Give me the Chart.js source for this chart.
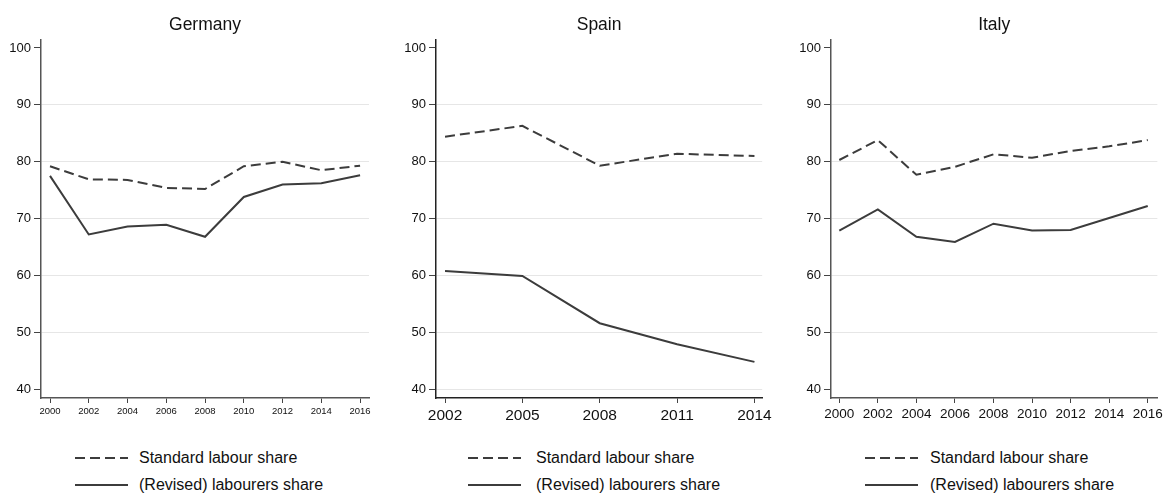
<!DOCTYPE html>
<html>
<head>
<meta charset="utf-8">
<script src="https://cdn.jsdelivr.net/npm/chart.js@4/dist/chart.umd.min.js"></script>
<style>
  html, body { margin: 0; padding: 0; background: #fff; }
  body { width: 1166px; height: 493px; position: relative; overflow: hidden; }
  canvas { position: absolute; top: 0; }
  .legend { position: absolute; font-family: 'Liberation Sans', Arial, sans-serif; font-size: 16px; color: #111; }
  .legend .row { position: absolute; left: 0; height: 20px; white-space: nowrap; }
  .legend svg { position: absolute; left: 0; top: 0; }
  .legend span { position: absolute; top: 0; line-height: 20px; }
</style>
</head>
<body>
<canvas id="germany" width="380" height="430" style="left:0px"></canvas>
<canvas id="spain" width="380" height="430" style="left:395px"></canvas>
<canvas id="italy" width="376" height="430" style="left:790px"></canvas>

<div class="legend" style="left:75px;top:448px" id="leg-germany"></div>
<div class="legend" style="left:468px;top:448px" id="leg-spain"></div>
<div class="legend" style="left:865px;top:448px" id="leg-italy"></div>

<script>
// Labour share series by country (percent)
const germanyYears    = [2000, 2002, 2004, 2006, 2008, 2010, 2012, 2014, 2016];
const germanyStandard = [79.2, 76.9, 76.8, 75.4, 75.2, 79.2, 80.0, 78.5, 79.3];
const germanyRevised  = [77.5, 67.2, 68.6, 68.9, 66.8, 73.8, 76.0, 76.2, 77.6];

const spainYears    = [2002, 2005, 2008, 2011, 2014];
const spainStandard = [84.4, 86.3, 79.3, 81.4, 81.0];
const spainRevised  = [60.8, 59.9, 51.6, 47.9, 44.8];

const italyYears    = [2000, 2002, 2004, 2006, 2008, 2010, 2012, 2014, 2016];
const italyStandard = [80.3, 83.8, 77.7, 79.1, 81.3, 80.7, 81.9, 82.7, 83.8];
const italyRevised  = [67.9, 71.6, 66.8, 65.9, 69.1, 67.9, 68.0, 70.1, 72.2];

const yTicks = [40, 50, 60, 70, 80, 90, 100];
const seriesNames = ['Standard labour share', '(Revised) labourers share'];

const LINE = '#3c3c3c';
const FONT = "'Liberation Sans', Arial, sans-serif";

function pairs(xs, ys) { return xs.map((x, i) => ({ x: x, y: ys[i] })); }

function makePanel(id, title, years, standard, revised, opt) {
  new Chart(document.getElementById(id), {
    type: 'line',
    data: {
      datasets: [
        { label: seriesNames[0], data: pairs(years, standard), borderColor: LINE, borderWidth: 2,
          borderDash: [10, 5], pointRadius: 0, fill: false, tension: 0 },
        { label: seriesNames[1], data: pairs(years, revised), borderColor: LINE, borderWidth: 2,
          pointRadius: 0, fill: false, tension: 0 }
      ]
    },
    options: {
      responsive: false,
      animation: false,
      devicePixelRatio: 1,
      layout: { padding: { left: 0, right: opt.padRight, top: 0, bottom: 0 } },
      plugins: {
        legend: { display: false },
        tooltip: { enabled: false },
        title: {
          display: true, text: title, color: '#111', fullSize: false,
          font: { family: FONT, size: 17.5, weight: 'normal', lineHeight: 1 },
          padding: { top: 16.5, bottom: 6 }
        }
      },
      scales: {
        x: {
          type: 'linear', min: opt.xMin, max: opt.xMax,
          afterBuildTicks: s => { s.ticks = years.map(v => ({ value: v })); },
          afterFit: s => { s.height = 32; },
          ticks: { color: '#111', padding: 3, maxRotation: 0, autoSkip: false,
                   font: { family: FONT, size: opt.xFont }, callback: v => String(v) },
          grid: { drawOnChartArea: false, drawTicks: true, tickLength: 5, tickColor: '#444' },
          border: { color: opt.axisColor, width: 1.5 }
        },
        y: {
          min: 38.45, max: 101.4,
          afterBuildTicks: s => { s.ticks = yTicks.map(v => ({ value: v })); },
          afterFit: s => { s.width = 41; },
          ticks: { color: '#111', padding: 3, font: { family: FONT, size: 13 }, callback: v => String(v) },
          grid: {
            color: c => (c.tick && c.tick.value < 100 && (c.tick.value > 40 || opt.grid40)) ? '#e6e6e6' : 'rgba(0,0,0,0)',
            lineWidth: 1, tickLength: 7, tickColor: '#444'
          },
          border: { color: opt.axisColor, width: 1.5 }
        }
      }
    }
  });
}

makePanel('germany', 'Germany', germanyYears, germanyStandard, germanyRevised,
  { xMin: 1999.535, xMax: 2016.46, xFont: 9.5, padRight: 11, axisColor: '#555', grid40: false });
makePanel('spain', 'Spain', spainYears, spainStandard, spainRevised,
  { xMin: 2001.65, xMax: 2014.3, xFont: 15.5, padRight: 12, axisColor: '#222', grid40: true });
makePanel('italy', 'Italy', italyYears, italyStandard, italyRevised,
  { xMin: 1999.57, xMax: 2016.5, xFont: 13.5, padRight: 6, axisColor: '#555', grid40: false });

// Legends under each panel
function makeLegend(id, textOffset) {
  const el = document.getElementById(id);
  seriesNames.forEach((name, i) => {
    const row = document.createElement('div');
    row.className = 'row';
    row.style.top = (i * 27) + 'px';
    const dash = i === 0 ? 'stroke-dasharray="10 5"' : '';
    row.innerHTML = '<svg width="54" height="20"><line x1="0" y1="10" x2="53" y2="10" stroke="' + LINE +
      '" stroke-width="2" ' + dash + '/></svg><span style="left:' + textOffset + 'px"></span>';
    row.querySelector('span').textContent = name;
    el.appendChild(row);
  });
}
makeLegend('leg-germany', 64);
makeLegend('leg-spain', 68);
makeLegend('leg-italy', 65);
</script>
</body>
</html>
